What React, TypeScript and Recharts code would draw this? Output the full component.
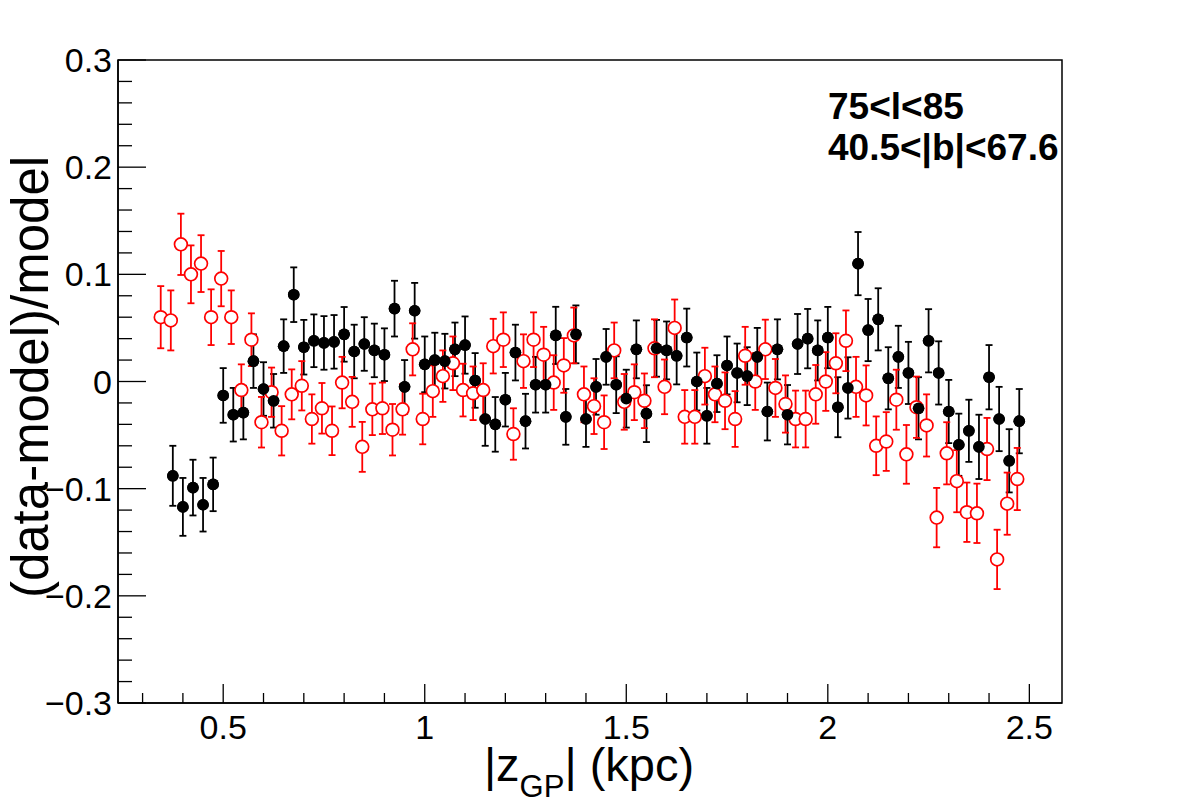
import {
  ScatterChart,
  Scatter,
  XAxis,
  YAxis,
  ErrorBar,
  ReferenceArea,
} from "recharts";

// bin centres (kpc); the red set is drawn slightly left of the black one
const zBlack = [
  0.375, 0.4, 0.425, 0.45, 0.475, 0.5, 0.525, 0.55, 0.575, 0.6,
  0.625, 0.65, 0.675, 0.7, 0.725, 0.75, 0.775, 0.8, 0.825, 0.85,
  0.875, 0.9, 0.925, 0.95, 0.975, 1.0, 1.025, 1.05, 1.075, 1.1,
  1.125, 1.15, 1.175, 1.2, 1.225, 1.25, 1.275, 1.3, 1.325, 1.35,
  1.375, 1.4, 1.425, 1.45, 1.475, 1.5, 1.525, 1.55, 1.575, 1.6,
  1.625, 1.65, 1.675, 1.7, 1.725, 1.75, 1.775, 1.8, 1.825, 1.85,
  1.875, 1.9, 1.925, 1.95, 1.975, 2.0, 2.025, 2.05, 2.075, 2.1,
  2.125, 2.15, 2.175, 2.2, 2.225, 2.25, 2.275, 2.3, 2.325, 2.35,
  2.375, 2.4, 2.425, 2.45, 2.475,
];

const relBlack = [
  -0.088, -0.117, -0.099, -0.115, -0.096, -0.013, -0.031, -0.029, 0.019, -0.007,
  -0.018, 0.033, 0.081, 0.032, 0.038, 0.036, 0.037, 0.044, 0.028, 0.035,
  0.029, 0.025, 0.068, -0.005, 0.066, 0.016, 0.02, 0.019, 0.03, 0.034,
  0.001, -0.035, -0.04, -0.017, 0.027, -0.037, -0.003, -0.003, 0.043, -0.033,
  0.044, -0.035, -0.005, 0.023, -0.003, -0.016, 0.03, -0.03, 0.031, 0.029,
  0.024, 0.041, 0.0, -0.032, -0.002, 0.015, 0.008, 0.005, 0.023, -0.028,
  0.03, -0.031, 0.035, 0.04, 0.029, 0.041, -0.024, -0.006, 0.11, 0.048,
  0.058, 0.003, 0.023, 0.008, -0.025, 0.038, 0.008, -0.028, -0.059, -0.046,
  -0.061, 0.004, -0.035, -0.074, -0.037,
];

const errBlack = [
  0.028, 0.027, 0.026, 0.025, 0.025, 0.0255, 0.025, 0.025, 0.025, 0.025,
  0.025, 0.025, 0.0255, 0.0255, 0.0246, 0.025, 0.025, 0.0255, 0.025, 0.025,
  0.025, 0.0246, 0.026, 0.025, 0.026, 0.026, 0.0255, 0.0255, 0.025, 0.0267,
  0.0255, 0.025, 0.0255, 0.025, 0.026, 0.0255, 0.026, 0.026, 0.0267, 0.026,
  0.027, 0.026, 0.026, 0.026, 0.0265, 0.027, 0.027, 0.0265, 0.0265, 0.027,
  0.0267, 0.027, 0.027, 0.026, 0.0265, 0.027, 0.0274, 0.027, 0.027, 0.027,
  0.028, 0.0277, 0.028, 0.0277, 0.028, 0.0286, 0.028, 0.0286, 0.0295, 0.029,
  0.029, 0.029, 0.029, 0.029, 0.029, 0.0295, 0.0295, 0.0295, 0.029, 0.029,
  0.03, 0.03, 0.03, 0.0295, 0.03,
];

const zRed = [
  0.345, 0.37, 0.395, 0.42, 0.445, 0.47, 0.495, 0.52, 0.545, 0.57,
  0.595, 0.62, 0.645, 0.67, 0.695, 0.72, 0.745, 0.77, 0.795, 0.82,
  0.845, 0.87, 0.895, 0.92, 0.945, 0.97, 0.995, 1.02, 1.045, 1.07,
  1.095, 1.12, 1.145, 1.17, 1.195, 1.22, 1.245, 1.27, 1.295, 1.32,
  1.345, 1.37, 1.395, 1.42, 1.445, 1.47, 1.495, 1.52, 1.545, 1.57,
  1.595, 1.62, 1.645, 1.67, 1.695, 1.72, 1.745, 1.77, 1.795, 1.82,
  1.845, 1.87, 1.895, 1.92, 1.945, 1.97, 1.995, 2.02, 2.045, 2.07,
  2.095, 2.12, 2.145, 2.17, 2.195, 2.22, 2.245, 2.27, 2.295, 2.32,
  2.345, 2.37, 2.395, 2.42, 2.445, 2.47,
];

const relRed = [
  0.06, 0.057, 0.128, 0.1, 0.11, 0.06, 0.096, 0.06, -0.008, 0.039,
  -0.038, -0.01, -0.046, -0.012, -0.004, -0.035, -0.025, -0.046, -0.001, -0.019,
  -0.061, -0.026, -0.025, -0.045, -0.026, 0.03, -0.035, -0.009, 0.005, 0.017,
  -0.008, -0.011, -0.008, 0.033, 0.039, -0.049, 0.019, 0.039, 0.025, -0.001,
  0.015, 0.043, -0.012, -0.023, -0.038, 0.029, -0.019, -0.01, -0.018, 0.031,
  -0.005, 0.05, -0.033, -0.033, 0.005, -0.012, -0.018, -0.035, 0.024, 0.0,
  0.03, -0.006, -0.021, -0.035, -0.035, -0.012, 0.0, 0.017, 0.038, -0.005,
  -0.013, -0.06, -0.056, -0.017, -0.068, -0.024, -0.041, -0.127, -0.067, -0.093,
  -0.122, -0.123, -0.063, -0.166, -0.114, -0.091,
];

const errRed = [
  0.029, 0.028, 0.0286, 0.027, 0.0265, 0.026, 0.0258, 0.025, 0.024, 0.0246,
  0.0236, 0.023, 0.023, 0.0233, 0.023, 0.023, 0.0236, 0.0227, 0.024, 0.0233,
  0.0233, 0.024, 0.024, 0.024, 0.0236, 0.0243, 0.0236, 0.024, 0.024, 0.025,
  0.0246, 0.025, 0.025, 0.0255, 0.0255, 0.024, 0.025, 0.0255, 0.026, 0.0255,
  0.0255, 0.026, 0.026, 0.026, 0.025, 0.026, 0.026, 0.026, 0.0255, 0.027,
  0.0255, 0.0265, 0.025, 0.025, 0.0265, 0.026, 0.0265, 0.026, 0.027, 0.0265,
  0.0277, 0.027, 0.0267, 0.0265, 0.0265, 0.0274, 0.0274, 0.028, 0.0283, 0.028,
  0.028, 0.0274, 0.0274, 0.028, 0.0274, 0.0286, 0.029, 0.0277, 0.029, 0.029,
  0.0277, 0.0277, 0.029, 0.0277, 0.029, 0.029,
];

const xDomain = [0.239, 2.581];
const yDomain = [-0.3, 0.3];

const xTicks = [
  0.3, 0.4, 0.5, 0.6, 0.7, 0.8, 0.9, 1.0, 1.1, 1.2, 1.3, 1.4, 1.5, 1.6, 1.7,
  1.8, 1.9, 2.0, 2.1, 2.2, 2.3, 2.4, 2.5,
];
const xMajor = [0.5, 1, 1.5, 2, 2.5];
const xLabels = ["0.5", "1", "1.5", "2", "2.5"];

const yTicks = [
  -0.3, -0.28, -0.26, -0.24, -0.22, -0.2, -0.18, -0.16, -0.14, -0.12, -0.1,
  -0.08, -0.06, -0.04, -0.02, 0, 0.02, 0.04, 0.06, 0.08, 0.1, 0.12, 0.14,
  0.16, 0.18, 0.2, 0.22, 0.24, 0.26, 0.28, 0.3,
];
const yMajor = [-0.3, -0.2, -0.1, 0, 0.1, 0.2, 0.3];
const yLabels = ["\u22120.3", "\u22120.2", "\u22120.1", "0", "0.1", "0.2", "0.3"];

const regionLines = ["75<l<85", "40.5<|b|<67.6"];

const FONT = "'Liberation Sans', Arial, Helvetica, sans-serif";

const blackData = zBlack.map((z, i) => ({ z, rel: relBlack[i], err: errBlack[i] }));
const redData = zRed.map((z, i) => ({ z, rel: relRed[i], err: errRed[i] }));

const findMajor = (list: number[], v: number) =>
  list.findIndex((m) => Math.abs(m - v) < 1e-6);

const XTick = (props: any) => {
  const { x, y, payload } = props;
  const idx = findMajor(xMajor, payload.value);
  const len = idx >= 0 ? 19 : 10;
  return (
    <g>
      <line x1={x} y1={y} x2={x} y2={y - len} stroke="#000" strokeWidth={1.3} />
      {idx >= 0 && (
        <text x={x} y={y + 36} textAnchor="middle" fontSize={34} fontFamily={FONT} fill="#000">
          {xLabels[idx]}
        </text>
      )}
    </g>
  );
};

const YTick = (props: any) => {
  const { x, y, payload } = props;
  const idx = findMajor(yMajor, payload.value);
  const len = idx >= 0 ? 28 : 14;
  return (
    <g>
      <line x1={x} y1={y} x2={x + len} y2={y} stroke="#000" strokeWidth={1.3} />
      {idx >= 0 && (
        <text x={x - 6} y={y + 12} textAnchor="end" fontSize={34} fontFamily={FONT} fill="#000">
          {yLabels[idx]}
        </text>
      )}
    </g>
  );
};

const BlackDot = (props: any) => <circle cx={props.cx} cy={props.cy} r={5.8} fill="#000" />;

const RedRing = (props: any) => (
  <circle cx={props.cx} cy={props.cy} r={6.4} fill="#fff" stroke="#ff0000" strokeWidth={1.7} />
);

export default function App() {
  return (
    <div style={{ position: "relative", width: 1182, height: 805, background: "#fff" }}>
      <style>{"body{margin:0;background:#fff}"}</style>
      <ScatterChart
        width={1182}
        height={805}
        margin={{ top: 60, right: 120, bottom: 101, left: 117 }}
      >
        <XAxis
          type="number"
          dataKey="z"
          domain={xDomain}
          ticks={xTicks}
          interval={0}
          allowDataOverflow
          height={1}
          tickSize={0}
          tickMargin={0}
          tickLine={false}
          tick={<XTick />}
          axisLine={{ stroke: "#000", strokeWidth: 1.5 }}
        />
        <YAxis
          type="number"
          dataKey="rel"
          domain={yDomain}
          ticks={yTicks}
          interval={0}
          allowDataOverflow
          width={1}
          tickSize={0}
          tickMargin={0}
          tickLine={false}
          tick={<YTick />}
          axisLine={{ stroke: "#000", strokeWidth: 1.5 }}
        />
        <ReferenceArea
          x1={xDomain[0]}
          x2={xDomain[1]}
          y1={yDomain[0]}
          y2={yDomain[1]}
          fill="none"
          fillOpacity={0}
          stroke="#000"
          strokeWidth={1.5}
        />
        <Scatter data={blackData} shape={<BlackDot />} isAnimationActive={false}>
          <ErrorBar
            dataKey="err"
            direction="y"
            width={3.5}
            stroke="#000"
            strokeWidth={1.8}
            isAnimationActive={false}
          />
        </Scatter>
        <Scatter data={redData} shape={<RedRing />} isAnimationActive={false}>
          <ErrorBar
            dataKey="err"
            direction="y"
            width={3.5}
            stroke="#ff0000"
            strokeWidth={1.8}
            isAnimationActive={false}
          />
        </Scatter>
        <Scatter data={blackData} shape={<BlackDot />} isAnimationActive={false} />
      </ScatterChart>
      <svg
        width={1182}
        height={805}
        style={{ position: "absolute", left: 0, top: 0, pointerEvents: "none" }}
      >
        <text x={828} y={119} fontSize={37} fontWeight="bold" fontFamily={FONT} fill="#000">
          {regionLines[0]}
        </text>
        <text x={828} y={160} fontSize={37} fontWeight="bold" fontFamily={FONT} fill="#000">
          {regionLines[1]}
        </text>
        <text x={589} y={781} textAnchor="middle" fontSize={47} fontFamily={FONT} fill="#000">
          |z
          <tspan fontSize={31} dy={16}>GP</tspan>
          <tspan dy={-16}>| (kpc)</tspan>
        </text>
        <text
          transform="translate(48,377) rotate(-90)"
          textAnchor="middle"
          fontSize={51}
          fontFamily={FONT}
          fill="#000"
        >
          (data-model)/model
        </text>
      </svg>
    </div>
  );
}
